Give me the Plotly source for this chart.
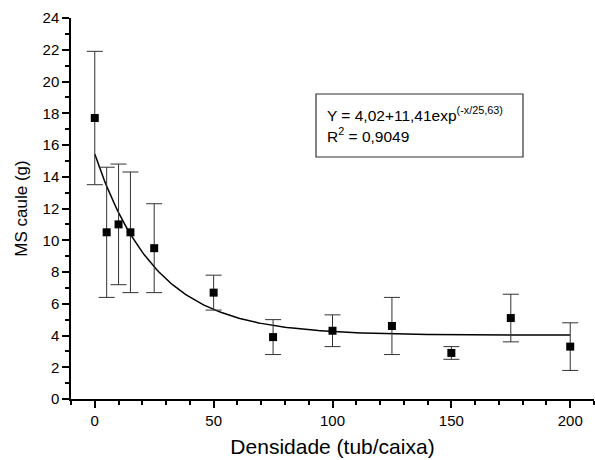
import numpy as np
import plotly.graph_objects as go

# Data
densidade = [0, 5, 10, 15, 25, 50, 75, 100, 125, 150, 175, 200]
ms_caule = [17.7, 10.5, 11.0, 10.5, 9.5, 6.7, 3.9, 4.3, 4.6, 2.9, 5.1, 3.3]
erro = [4.2, 4.1, 3.8, 3.8, 2.8, 1.1, 1.1, 1.0, 1.8, 0.4, 1.5, 1.5]

# Fitted model shown in the chart: Y = y0 + A*exp(-x/t)
fit_y0 = 4.02
fit_a = 11.41
fit_t = 25.63
fit_r2 = "0,9049"

x_fit = np.linspace(0, 200, 201)
y_fit = fit_y0 + fit_a * np.exp(-x_fit / fit_t)

FONT = "Liberation Sans, Arial, sans-serif"

fig = go.Figure()
fig.add_trace(go.Scatter(
    x=x_fit, y=y_fit, mode="lines",
    line=dict(color="black", width=1.5),
    showlegend=False, hoverinfo="skip"))
fig.add_trace(go.Scatter(
    x=densidade, y=ms_caule, mode="markers",
    marker=dict(symbol="square", size=8, color="black"),
    error_y=dict(type="data", array=erro, visible=True,
                 color="#333333", thickness=1, width=8),
    showlegend=False))

fig.update_layout(
    width=595, height=460,
    margin=dict(l=71, r=1, t=18, b=61),
    paper_bgcolor="white", plot_bgcolor="white",
    font=dict(family=FONT, color="black", size=15),
    xaxis=dict(
        range=[-10, 210], dtick=50, tick0=0,
        showgrid=False, zeroline=False, automargin=False,
        showline=True, linecolor="black", linewidth=1.5,
        ticks="outside", ticklen=7, tickwidth=1.5, tickcolor="black",
        minor=dict(dtick=10, tick0=0, ticks="outside", ticklen=4,
                   tickwidth=1.5, tickcolor="black", showgrid=False),
        tickfont=dict(size=15),
        title=dict(text="Densidade (tub/caixa)", font=dict(size=21), standoff=12),
    ),
    yaxis=dict(
        range=[0, 24], dtick=2, tick0=0,
        showgrid=False, zeroline=False, automargin=False,
        showline=True, linecolor="black", linewidth=1.5,
        ticks="outside", ticklen=7, tickwidth=1.5, tickcolor="black",
        minor=dict(dtick=1, tick0=0, ticks="outside", ticklen=4,
                   tickwidth=1.5, tickcolor="black", showgrid=False),
        tickfont=dict(size=15),
        title=dict(text="MS caule (g)", font=dict(size=17), standoff=11),
    ),
)

# Equation box
px0, px1 = 71, 594
py0, py1 = 18, 399
def xp(p):
    return (p - px0) / (px1 - px0)
def yp(p):
    return (py1 - p) / (py1 - py0)

fig.add_shape(type="rect", xref="paper", yref="paper",
              x0=xp(316), x1=xp(523), y0=yp(157), y1=yp(94),
              line=dict(color="#333333", width=1.2), fillcolor="white")
fig.add_annotation(xref="paper", yref="paper", x=xp(325), y=yp(114),
                   xanchor="left", yanchor="middle", showarrow=False,
                   text="Y = 4,02+11,41exp<sup>(-x/25,63)</sup>",
                   font=dict(size=15.5, family=FONT))
fig.add_annotation(xref="paper", yref="paper", x=xp(325), y=yp(135),
                   xanchor="left", yanchor="middle", showarrow=False,
                   text=f"R<sup>2</sup> = {fit_r2}",
                   font=dict(size=15.5, family=FONT))

fig.write_html("out.html",
               config={"displayModeBar": False},
               post_script="document.body.style.margin='0';")
